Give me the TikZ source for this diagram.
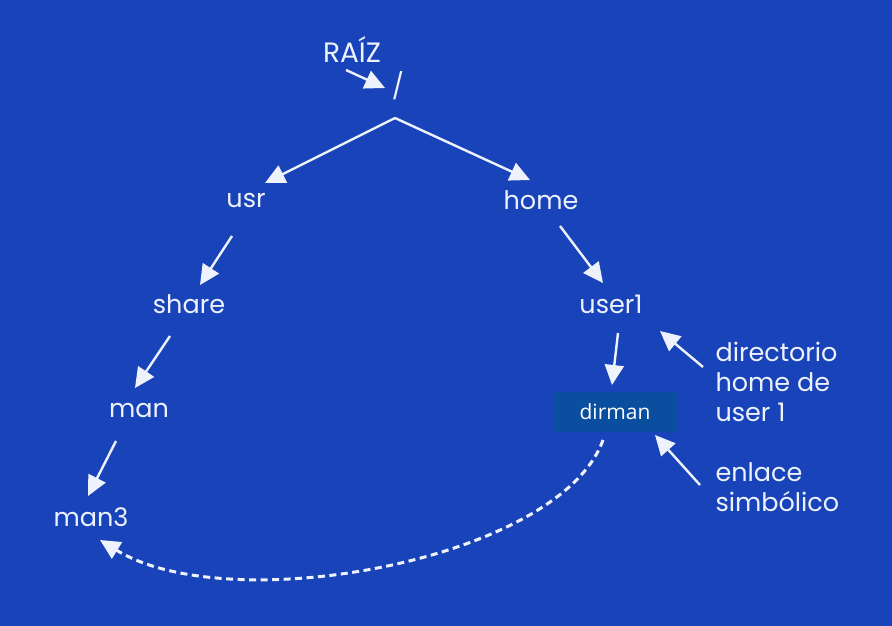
\documentclass[tikz,border=0pt]{standalone}
\usepackage{fontspec}
\setmainfont{Poppins}
\newfontfamily\boxfont{Open Sans}
\usetikzlibrary{arrows.meta}

\definecolor{bgblue}{RGB}{25,68,185}
\definecolor{boxblue}{RGB}{10,78,160}
\definecolor{inkwhite}{RGB}{238,242,252}

\begin{document}
\begin{tikzpicture}[x=1pt, y=-1pt, every node/.style={font=\fontsize{25.5}{30}\selectfont, text=inkwhite},
	>={Triangle[length=20pt, width=19pt]}, arr/.style={->, draw=inkwhite, fill=inkwhite, line width=2.4pt}]
	\fill[bgblue] (0,0) rectangle (892,626);
	\useasboundingbox (0,0) rectangle (892,626);
	% tree of directories
	\node[font=\fontsize{28}{30}\selectfont] (raiz) at (352,50) {RAÍZ};
	\node (root) at (398,86) {/};
	\coordinate (apex) at (395,118);
	\node (usr) at (246,200) {usr};
	\node (home) at (541,200) {home};
	\node (share) at (189,304) {share};
	\node (user1) at (611,304) {user1};
	\node (man) at (139,410) {man};
	\node (man3) at (91,517) {man3};
	\node[fill=boxblue, minimum width=124pt, minimum height=40pt, font=\boxfont\fontsize{21}{22}\selectfont, text=white] (dirman) at (615,412) {dirman};
	% notes on the right
	\node[anchor=west, align=left] (note1) at (712,382) {directorio\\home de\\user 1};
	\node[anchor=west, align=left] (note2) at (712,487) {enlace\\simbólico};
	\draw[arr] ([shift={(-6,20)}]raiz.center) -- ([shift={(-13,2)}]root.center);
	\draw[arr] (apex) -- ([shift={(19,-17)}]usr.center);
	\draw[arr] (apex) -- ([shift={(-11,-20)}]home.center);
	\draw[arr] ([shift={(-14,36)}]usr.center) -- ([shift={(11,-19)}]share.center);
	\draw[arr] ([shift={(19,26)}]home.center) -- ([shift={(-8,-21)}]user1.center);
	\draw[arr] ([shift={(-19,32)}]share.center) -- ([shift={(-4,-22)}]man.center);
	\draw[arr] ([shift={(7,29)}]user1.center) -- ([shift={(-3,-27)}]dirman.center);
	\draw[arr] ([shift={(-23,31)}]man.center) -- ([shift={(-3,-21)}]man3.center);
	\draw[arr] ([shift={(-9,-15)}]note1.west) -- ([shift={(45,-81)}]dirman.center);
	\draw[arr] ([shift={(-12,-2)}]note2.west) -- ([shift={(40,23)}]dirman.center);
	% symbolic link
	\draw[->, inkwhite, line width=3pt, dash pattern=on 7pt off 4.5pt] ([shift={(-12,28)}]dirman.center) .. controls (560,560) and (230,620) .. ([shift={(9,23)}]man3.center);
\end{tikzpicture}
\end{document}
